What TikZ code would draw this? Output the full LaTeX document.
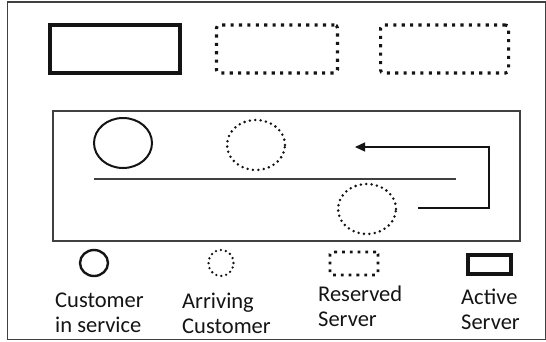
\documentclass[tikz,border=0pt]{standalone}
\usepackage{fontspec}
\setmainfont{Carlito}
\usetikzlibrary{arrows.meta,shapes.geometric,positioning}
\definecolor{ink}{HTML}{141414}
\definecolor{rule}{HTML}{404040}

\begin{document}
\begin{tikzpicture}[
    x=1pt, y=-1pt,
    active/.style={rectangle, draw=ink, line width=3.8pt, inner sep=0pt},
    reserved/.style={rectangle, draw=ink, line width=3.1pt, dash pattern=on 3.1pt off 5.3pt, rounded corners=3pt, inner sep=0pt},
    served/.style={ellipse, draw=ink, line width=2pt, inner sep=0pt},
    arriving/.style={ellipse, draw=ink, line width=2.8pt, dash pattern=on 0pt off 5.4pt, line cap=round, inner sep=0pt},
    legend/.style={anchor=north west, inner sep=0pt, align=left, text=ink, font=\fontsize{22.5}{25}\selectfont},
    arr/.style={-{Triangle[length=10pt,width=9pt]}, draw=ink, line width=1.3pt}
]
\useasboundingbox (0,0) rectangle (546,341);

% Frame
\draw[rule, line width=1.4pt] (7.5,2) rectangle (545.5,339.5);

% Servers
\node[active, minimum width=130pt, minimum height=48pt] (srv1) at (115,49) {};
\node[reserved, minimum width=121pt, minimum height=48pt, right=33pt of srv1] (srv2) {};
\node[reserved, minimum width=128pt, minimum height=48pt, right=40pt of srv2] (srv3) {};

% Queue
\node[draw=rule, line width=1.4pt, minimum width=467pt, minimum height=130pt, inner sep=0pt] (queue) at (286.5,176) {};
\node[served, minimum width=58pt, minimum height=50pt] (cus1) at (123,143) {};
\node[arriving, minimum width=58pt, minimum height=50pt] (cus2) at (256,145) {};
\node[arriving, minimum width=58pt, minimum height=50pt] (cus3) at (367,209) {};

\coordinate (lineL) at (94,179);
\coordinate (lineR) at (456,179);
\draw[rule, line width=1.4pt] (lineL) -- (lineR);

\coordinate (back) at (418,208);
\coordinate (tip) at (355,147);
\draw[arr] (back) -- ++(71,0) |- (tip);

% Legend
\node[served, line width=2.4pt, minimum width=28pt, minimum height=26pt] (keyC) at (94,263) {};
\node[arriving, line width=2.6pt, dash pattern=on 0pt off 5pt, minimum width=25pt, minimum height=26pt] (keyA) at (221,263) {};
\node[reserved, line width=2.8pt, dash pattern=on 2.8pt off 5pt, rounded corners=2pt, minimum width=48pt, minimum height=23pt] (keyR) at (354,263.5) {};
\node[active, line width=4.2pt, minimum width=43pt, minimum height=19pt] (keyS) at (489.5,264.5) {};

\node[legend] (txtC) at (55,293) {Customer\\in service};
\node[legend] (txtA) at (182,293) {Arriving\\Customer};
\node[legend] (txtR) at (318,286) {Reserved\\Server};
\node[legend] (txtS) at (461,289) {Active\\Server};

\end{tikzpicture}
\end{document}
